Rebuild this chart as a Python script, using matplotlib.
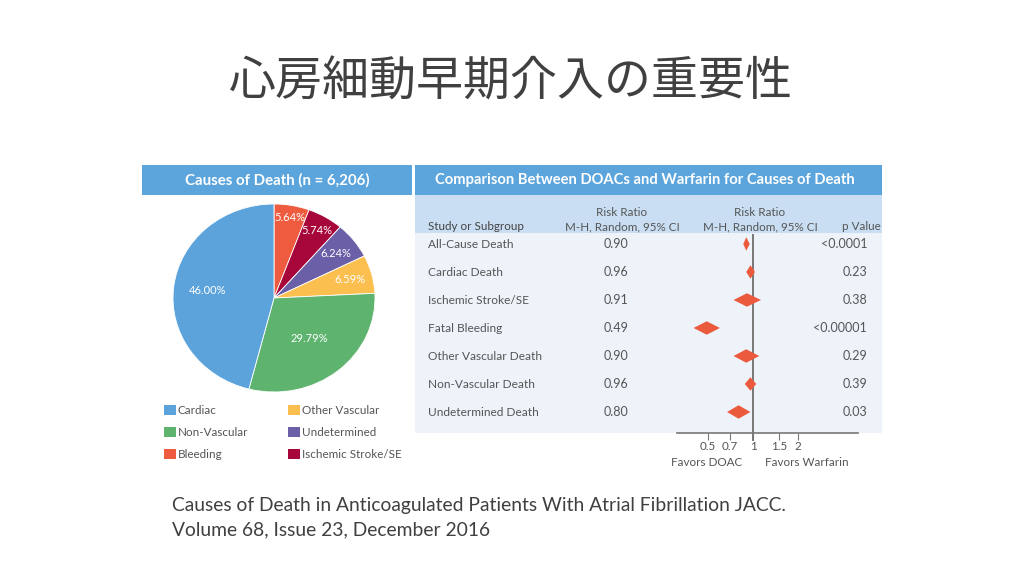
import matplotlib
matplotlib.use("Agg")
import numpy as np
import matplotlib.pyplot as plt
from matplotlib.patches import Rectangle
from matplotlib.ticker import NullLocator

plt.rcParams['font.family'] = ['Lato', 'DejaVu Sans']

# --- data ---
pie_labels = ['Bleeding', 'Ischemic Stroke/SE', 'Undetermined', 'Other Vascular', 'Non-Vascular', 'Cardiac']
pie_values = [5.64, 5.74, 6.24, 6.59, 29.79, 46.00]
pie_colors = ['#EE5B3F', '#A6063A', '#6B5FA7', '#FBBF50', '#5EB46F', '#5CA3DC']

legend_col1 = ['Cardiac', 'Non-Vascular', 'Bleeding']
legend_col2 = ['Other Vascular', 'Undetermined', 'Ischemic Stroke/SE']

subgroups = ['All-Cause Death', 'Cardiac Death', 'Ischemic Stroke/SE', 'Fatal Bleeding',
             'Other Vascular Death', 'Non-Vascular Death', 'Undetermined Death']
rr = [0.90, 0.96, 0.91, 0.49, 0.90, 0.96, 0.80]
ci_low = [0.86, 0.90, 0.74, 0.40, 0.74, 0.88, 0.67]
ci_high = [0.95, 1.03, 1.13, 0.60, 1.10, 1.05, 0.96]
p_values = ['<0.0001', '0.23', '0.38', '<0.00001', '0.29', '0.39', '0.03']
axis_ticks = [0.5, 0.7, 1, 1.5, 2]
axis_ticklabels = ['0.5', '0.7', '1', '1.5', '2']

W, H = 1024, 576
fig = plt.figure(figsize=(W / 100, H / 100), dpi=100)
fig.patch.set_facecolor('white')

def px_axes(left, top, right, bottom):
    return fig.add_axes([left / W, 1 - bottom / H, (right - left) / W, (bottom - top) / H])

# background axes in pixel coordinates
bg = fig.add_axes([0, 0, 1, 1])
bg.set_xlim(0, W)
bg.set_ylim(H, 0)
bg.axis('off')

title_col = '#404040'
text_col = '#555555'
blue = '#5CA5DC'

bg.text(511, 82, '心房細動早期介入の重要性', ha='center', va='center', fontsize=33.8,
        color=title_col, family=['Noto Sans CJK JP', 'DejaVu Sans'])

# header bars
bg.add_patch(Rectangle((142, 165), 270, 30, color=blue, lw=0))
bg.add_patch(Rectangle((415, 165), 467, 30, color=blue, lw=0))
bg.text(277, 180, 'Causes of Death (n = 6,206)', ha='center', va='center',
        color='white', fontsize=10.8, fontweight='bold')
bg.text(645, 180, 'Comparison Between DOACs and Warfarin for Causes of Death',
        ha='center', va='center', color='white', fontsize=10.6, fontweight='bold')

# table background
bg.add_patch(Rectangle((415, 195), 467, 38, color='#C9DEF2', lw=0))
bg.add_patch(Rectangle((415, 233), 467, 200, color='#EEF3FA', lw=0))

bg.text(428, 227, 'Study or Subgroup', ha='left', va='center', fontsize=8.4, color='#444444')
bg.text(622, 213, 'Risk Ratio', ha='center', va='center', fontsize=8.4, color=text_col)
bg.text(622, 227, 'M-H, Random, 95% CI', ha='center', va='center', fontsize=8.4, color=text_col)
bg.text(760, 213, 'Risk Ratio', ha='center', va='center', fontsize=8.4, color=text_col)
bg.text(760, 227, 'M-H, Random, 95% CI', ha='center', va='center', fontsize=8.4, color=text_col)
bg.text(881, 227, 'p Value', ha='right', va='center', fontsize=8.4, color=text_col)

row_top = 244
row_step = 28
for i, name in enumerate(subgroups):
    y = row_top + i * row_step
    bg.text(428, y, name, ha='left', va='center', fontsize=8.6, color=text_col)
    bg.text(616, y, f'{rr[i]:.2f}', ha='center', va='center', fontsize=9, color=text_col)
    bg.text(867, y, p_values[i], ha='right', va='center', fontsize=9, color=text_col)

bg.text(707, 462, 'Favors DOAC', ha='center', va='center', fontsize=8.4, color=text_col)
bg.text(807, 462, 'Favors Warfarin', ha='center', va='center', fontsize=8.4, color=text_col)

# legend
for j, lab in enumerate(legend_col1):
    y = 410 + j * 22
    c = pie_colors[pie_labels.index(lab)]
    bg.add_patch(Rectangle((164, y - 5), 12, 10, color=c, lw=0))
    bg.text(178, y, lab, ha='left', va='center', fontsize=8.4, color=text_col)
for j, lab in enumerate(legend_col2):
    y = 410 + j * 22
    c = pie_colors[pie_labels.index(lab)]
    bg.add_patch(Rectangle((288, y - 5), 12, 10, color=c, lw=0))
    bg.text(302, y, lab, ha='left', va='center', fontsize=8.4, color=text_col)

# caption
bg.text(172, 505, 'Causes of Death in Anticoagulated Patients With Atrial Fibrillation JACC.',
        ha='left', va='center', fontsize=13.9, color=title_col)
bg.text(172, 530, 'Volume 68, Issue 23, December 2016',
        ha='left', va='center', fontsize=13.9, color=title_col)

# pie
ax_pie = px_axes(173, 204, 375, 392)
wedges, _ = ax_pie.pie(pie_values, colors=pie_colors, startangle=90, counterclock=False,
                       wedgeprops=dict(edgecolor='white', linewidth=0.6))
ax_pie.set_aspect('auto')
ax_pie.set_xlim(-1, 1)
ax_pie.set_ylim(-1, 1)
label_r = [0.87, 0.83, 0.77, 0.78, 0.56, 0.66]
for w, v, r in zip(wedges, pie_values, label_r):
    ang = np.deg2rad((w.theta1 + w.theta2) / 2)
    ax_pie.text(r * np.cos(ang), r * np.sin(ang), f'{v:.2f}%', ha='center', va='center',
                color='white', fontsize=8)

# forest plot
ax_f = px_axes(677, 235, 858, 433)
ax_f.set_facecolor('none')
ax_f.set_xscale('log')
ax_f.set_xlim(0.31, 5.03)
ax_f.set_ylim(6.75, -0.32)
for i in range(len(subgroups)):
    h = 0.24
    ax_f.fill([ci_low[i], rr[i], ci_high[i], rr[i]], [i, i - h, i, i + h],
              color='#EC5A3D', lw=0, zorder=3)
ax_f.axvline(1, ymin=-0.035, ymax=1, color='#777777', lw=1.4, clip_on=False, zorder=2)
for s in ['top', 'left', 'right']:
    ax_f.spines[s].set_visible(False)
ax_f.spines['bottom'].set_color('#777777')
ax_f.spines['bottom'].set_linewidth(1.2)
ax_f.set_yticks([])
ax_f.set_xticks(axis_ticks)
ax_f.set_xticklabels(axis_ticklabels)
ax_f.xaxis.set_minor_locator(NullLocator())
ax_f.tick_params(axis='x', direction='out', length=5, color='#777777', labelsize=8.4,
                 labelcolor=text_col, pad=1)

fig.savefig('out.png', dpi=100, facecolor='white')
